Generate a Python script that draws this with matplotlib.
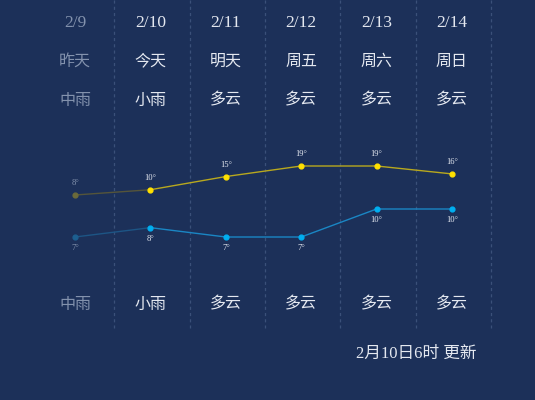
import matplotlib
matplotlib.use("Agg")
import matplotlib.pyplot as plt

dates = ["2/9", "2/10", "2/11", "2/12", "2/13", "2/14"]
days = ["昨天", "今天", "明天", "周五", "周六", "周日"]
weather_day = ["中雨", "小雨", "多云", "多云", "多云", "多云"]
weather_night = ["中雨", "小雨", "多云", "多云", "多云", "多云"]
high = [8, 10, 15, 19, 19, 16]
low = [7, 8, 7, 7, 10, 10]
update_text = "2月10日6时 更新"

BG = "#1c3059"
DIM = "#8392ad"
BRIGHT = "#e4e8f0"
FONT = ["Liberation Serif", "Noto Sans CJK SC", "DejaVu Sans"]

W, H = 535, 400
fig = plt.figure(figsize=(W / 100, H / 100), dpi=100, facecolor=BG)

step = 75.4
x0 = 75
xlim = (-x0 / step, (W - x0) / step)

base = fig.add_axes([0, 0, 1, 1])
base.set_facecolor(BG)
base.set_xlim(*xlim)
base.set_ylim(1, 0)
base.axis("off")

n = len(dates)
for i in range(n):
    base.plot([i + 0.52, i + 0.52], [0, 328 / H], color="#3b5079", lw=0.9,
              ls=(0, (2.5, 2.5)))

for i in range(n):
    c = DIM if i == 0 else BRIGHT
    base.text(i, 23 / H, dates[i], color=c, fontsize=12.5, ha="center", va="center", family=FONT)
    base.text(i, 61.5 / H, days[i], color=c, fontsize=11.5, ha="center", va="center",
              family=FONT, fontweight="light")
    base.text(i, 100.5 / H, weather_day[i], color=c, fontsize=11.5, ha="center", va="center",
              family=FONT, fontweight="light")
    base.text(i, 304.5 / H, weather_night[i], color=c, fontsize=11.5, ha="center", va="center",
              family=FONT, fontweight="light")

base.text(416 / step - x0 / step, 354 / H, update_text, color=BRIGHT, fontsize=12,
          ha="center", va="center", family=FONT, fontweight="light")

# high temperature axis
ah = fig.add_axes([0, (H - 195) / H, 1, 29 / H])
ah.set_xlim(*xlim)
ah.set_ylim(min(high), max(high))
ah.axis("off")
ah.patch.set_alpha(0)
xs = list(range(n))
ah.plot(xs[:2], high[:2], color="#55553a", lw=1.0, clip_on=False)
ah.plot(xs[1:], high[1:], color="#b8a81e", lw=1.0, clip_on=False)
ah.scatter(xs[:1], high[:1], s=12, color="#6b6a3a", zorder=3, clip_on=False)
ah.scatter(xs[1:], high[1:], s=12, color="#ffe000", zorder=3, clip_on=False)
for i, v in enumerate(high):
    ah.annotate(f"{v}°", (i, v), xytext=(0, 8.5), textcoords="offset points",
                ha="center", va="center", fontsize=6.2,
                color=DIM if i == 0 else BRIGHT, family=FONT, annotation_clip=False)

# low temperature axis
al = fig.add_axes([0, (H - 237) / H, 1, 28 / H])
al.set_xlim(*xlim)
al.set_ylim(min(low), max(low))
al.axis("off")
al.patch.set_alpha(0)
al.plot(xs[:2], low[:2], color="#1d5585", lw=1.0, clip_on=False)
al.plot(xs[1:], low[1:], color="#1a86c4", lw=1.0, clip_on=False)
al.scatter(xs[:1], low[:1], s=12, color="#1d5f90", zorder=3, clip_on=False)
al.scatter(xs[1:], low[1:], s=12, color="#00aef0", zorder=3, clip_on=False)
for i, v in enumerate(low):
    al.annotate(f"{v}°", (i, v), xytext=(0, -8), textcoords="offset points",
                ha="center", va="center", fontsize=6.2,
                color=DIM if i == 0 else BRIGHT, family=FONT, annotation_clip=False)

fig.savefig("out.png", dpi=100, facecolor=BG)
